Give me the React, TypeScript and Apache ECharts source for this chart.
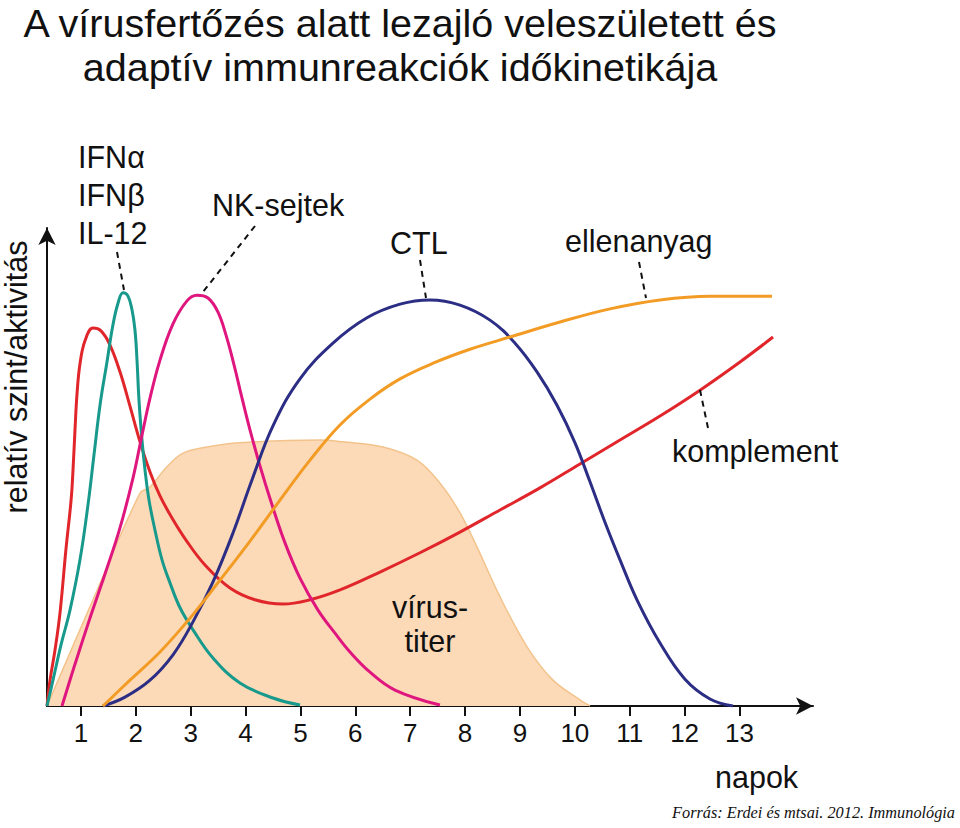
import { useEffect, useRef } from 'react';
import * as echarts from 'echarts';

const titleLines = ['A vírusfertőzés alatt lezajló veleszületett és', 'adaptív immunreakciók időkinetikája'];
const xAxisName = 'napok';
const yAxisName = 'relatív szint/aktivitás';
const sourceText = 'Forrás: Erdei és mtsai. 2012. Immunológia';
const dayTicks = [1, 2, 3, 4, 5, 6, 7, 8, 9, 10, 11, 12, 13];

// [day, relative level]
const virusTiter = [
  [0.381, 0], [1.219, 22.6], [2.076, 45.3], [2.258, 46.6], [2.567, 50.9], [2.859, 53.8],
  [3.297, 55.1], [3.897, 56.0], [5.355, 56.6], [5.775, 56.2], [6.504, 55.1], [7.123, 52.3],
  [7.543, 47.4], [7.908, 41.1], [8.218, 33.8], [8.637, 23.2], [9.129, 12.6], [9.602, 5.5],
  [10.094, 1.3], [10.276, 0],
];
const komplement = [
  [0.381, 0], [0.436, 5.5], [0.527, 11.9], [0.618, 19.8], [0.727, 33.4], [0.82, 43.8],
  [0.855, 50.2], [0.891, 58.7], [0.928, 66.4], [0.982, 72.8], [1.073, 77.7], [1.219, 80.4],
  [1.365, 79.8], [1.529, 76.8], [1.711, 71.1], [1.893, 63.8], [2.076, 56.2], [2.258, 49.8],
  [2.44, 44.7], [2.659, 40.0], [2.914, 35.3], [3.26, 30.0], [3.716, 25.1], [4.171, 22.6],
  [4.681, 21.7], [5.174, 22.6], [5.721, 24.7], [6.449, 28.5], [7.178, 32.6], [7.907, 37.0],
  [8.636, 41.7], [9.365, 46.4], [10.094, 51.5], [10.823, 56.6], [11.552, 61.7], [12.281, 67.2],
  [13.01, 73.2], [13.612, 78.5],
];
const interferon = [
  [0.381, 0], [0.49, 5.5], [0.636, 13.0], [0.8, 20.4], [0.982, 31.1], [1.128, 42.8],
  [1.237, 53.4], [1.347, 64.0], [1.474, 73.2], [1.583, 81.1], [1.675, 85.7], [1.766, 87.9],
  [1.857, 87.2], [1.93, 84.3], [1.984, 80.0], [2.021, 73.6], [2.057, 65.1], [2.112, 56.6],
  [2.167, 50.2], [2.24, 43.8], [2.349, 37.4], [2.477, 31.1], [2.622, 26.2], [2.805, 20.9],
  [3.042, 16.2], [3.406, 10.2], [3.897, 4.9], [4.499, 1.7], [4.991, 0.2],
];
const nkCells = [
  [0.654, 0], [0.891, 8.9], [1.164, 18.7], [1.438, 28.1], [1.711, 37.9], [1.948, 48.5],
  [2.094, 56.6], [2.258, 65.5], [2.44, 73.6], [2.677, 81.3], [2.932, 86.2], [3.114, 87.4],
  [3.315, 86.8], [3.497, 83.8], [3.643, 78.9], [3.789, 72.6], [3.935, 65.5], [4.081, 58.7],
  [4.262, 51.1], [4.481, 42.8], [4.718, 34.7], [4.991, 27.2], [5.319, 20.4], [5.629, 15.5],
  [5.902, 11.5], [6.267, 7.2], [6.722, 3.4], [7.542, 0.2],
];
const ctl = [
  [1.401, 0], [1.802, 1.9], [2.258, 5.5], [2.677, 10.9], [3.041, 17.9], [3.406, 26.4],
  [3.77, 36.8], [4.116, 48.1], [4.499, 59.6], [4.991, 69.6], [5.592, 77.2], [6.212, 82.6],
  [6.814, 85.5], [7.36, 86.4], [7.907, 85.3], [8.454, 82.1], [8.91, 77.2], [9.31, 71.1],
  [9.675, 64.0], [10.003, 56.0], [10.276, 47.7], [10.549, 39.1], [10.823, 31.1], [11.132, 22.6],
  [11.552, 13.4], [12.007, 5.7], [12.463, 1.5], [12.882, 0],
];
const antibody = [
  [1.401, 0], [1.893, 5.5], [2.44, 11.5], [2.987, 18.7], [3.534, 26.8], [4.081, 35.1],
  [4.627, 43.8], [5.174, 52.3], [5.72, 59.8], [6.267, 65.3], [6.814, 69.6], [7.452, 73.1],
  [8.09, 75.9], [8.818, 78.5], [9.73, 81.7], [10.641, 84.5], [11.552, 86.4], [12.463, 87.2],
  [13.593, 87.2],
];

const SANS = '"Liberation Sans", Arial, Helvetica, sans-serif';

function label(x: number, y: number, text: string, size = 30.5, align = 'left', extra: any = {}) {
  const { style: extraStyle, ...rest } = extra;
  return {
    type: 'text',
    x,
    y,
    silent: true,
    z: 10,
    ...rest,
    style: {
      text,
      fill: '#111',
      fontSize: size,
      fontFamily: SANS,
      align,
      textAlign: align,
      verticalAlign: 'middle',
      textVerticalAlign: 'middle',
      ...(extraStyle || {}),
    },
  };
}

function leader(x1: number, y1: number, x2: number, y2: number) {
  return {
    type: 'line',
    silent: true,
    z: 10,
    shape: { x1, y1, x2, y2 },
    style: { stroke: '#111', lineWidth: 2, lineDash: [6, 5] },
  };
}

function curve(name: string, data: number[][], color: string) {
  return {
    name,
    type: 'line',
    data,
    smooth: 0.4,
    showSymbol: false,
    symbol: 'none',
    lineStyle: { color, width: 3 },
    z: 3,
  };
}

export default function App() {
  const ref = useRef<HTMLDivElement>(null);
  useEffect(() => {
    const chart = echarts.init(ref.current!, null, { renderer: 'svg' });
    chart.setOption({
      animation: false,
      backgroundColor: '#ffffff',
      grid: { left: 47, right: 147, top: 228, bottom: 122, outerBoundsMode: 'none' },
      xAxis: {
        type: 'value',
        min: 0.381,
        max: 14.34,
        splitLine: { show: false },
        axisLine: {
          show: true,
          onZero: false,
          symbol: ['none', 'arrow'],
          symbolSize: [13, 17],
          lineStyle: { color: '#111', width: 2 },
        },
        axisTick: {
          show: true,
          customValues: dayTicks,
          length: 10,
          lineStyle: { color: '#111', width: 2 },
        },
        axisLabel: {
          show: true,
          customValues: dayTicks,
          margin: 14,
          fontSize: 26,
          fontFamily: SANS,
          color: '#111',
        },
      },
      yAxis: {
        type: 'value',
        min: 0,
        max: 101.7,
        splitLine: { show: false },
        axisTick: { show: false },
        axisLabel: { show: false },
        axisLine: {
          show: true,
          onZero: false,
          symbol: ['none', 'arrow'],
          symbolSize: [13, 17],
          lineStyle: { color: '#111', width: 2 },
        },
      },
      series: [
        {
          name: 'vírustiter',
          type: 'line',
          data: virusTiter,
          smooth: 0.35,
          showSymbol: false,
          symbol: 'none',
          lineStyle: { color: '#f3c38c', width: 1.5 },
          areaStyle: { color: '#fcdab8', opacity: 1 },
          z: 1,
        },
        curve('komplement', komplement, '#e0262b'),
        curve('IFN', interferon, '#17998c'),
        curve('NK-sejtek', nkCells, '#e0167f'),
        curve('CTL', ctl, '#2b2e84'),
        curve('ellenanyag', antibody, '#f39c25'),
      ],
      graphic: [
        label(400, 23, titleLines[0], 39.5, 'center'),
        label(400, 67, titleLines[1], 39.5, 'center'),
        label(78, 157, 'IFNα'),
        label(78, 195, 'IFNβ'),
        label(78, 233, 'IL-12'),
        label(212, 205, 'NK-sejtek'),
        label(390, 243, 'CTL'),
        label(565, 241, 'ellenanyag'),
        label(672, 451, 'komplement'),
        label(430, 607, 'vírus-', 30.5, 'center'),
        label(430, 641, 'titer', 30.5, 'center'),
        label(715, 777, xAxisName),
        label(16, 377, yAxisName, 30.5, 'center', { rotation: Math.PI / 2 }),
        label(955, 812, sourceText, 16.3, 'right', {
          style: { fontFamily: '"Liberation Serif", "Times New Roman", serif', fontStyle: 'italic' },
        }),
        leader(117, 252, 124, 290),
        leader(255, 226, 203, 292),
        leader(420, 260, 426, 298),
        leader(639, 262, 646, 298),
        leader(700, 390, 708, 428),
      ],
    });
    return () => chart.dispose();
  }, []);
  return (
    <div
      ref={ref}
      style={{ position: 'fixed', left: 0, top: 0, width: 960, height: 828, background: '#fff' }}
    />
  );
}
